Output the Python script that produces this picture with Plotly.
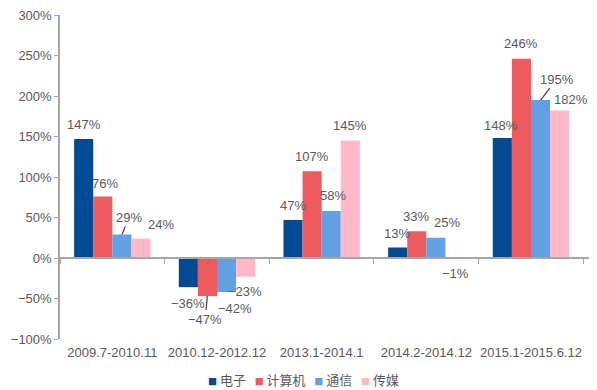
import plotly.graph_objects as go

categories = ["2009.7-2010.11", "2010.12-2012.12", "2013.1-2014.1", "2014.2-2014.12", "2015.1-2015.6.12"]
series_names = ["电子", "计算机", "通信", "传媒"]
dianzi = [147, -36, 47, 13, 148]
jisuanji = [76, -47, 107, 33, 246]
tongxin = [29, -42, 58, 25, 195]
chuanmei = [24, -23, 145, -1, 182]
colors = ["#034A94", "#EE5B5E", "#629FE3", "#FFB8C8"]
y_ticks = [-100, -50, 0, 50, 100, 150, 200, 250, 300]

values = [dianzi, jisuanji, tongxin, chuanmei]

# label offsets (text centre relative to bar end, px); arrow flag for leader lines
label_offsets = [
    [(1, -14, False), (0, 16, False), (0, -14, False), (0, -14, False), (-1, -13, False)],
    [(2, -13, False), (-2, 23, True), (0, -15, False), (-1, -15, False), (0, -15, False)],
    [(7, -17, True), (8, 16, False), (2, -16, False), (11, -15, False), (16, -21, True)],
    [(20, -14, False), (-1, 15, False), (-1, -15, False), (0, 15, False), (11, -11, False)],
]

font_family = "Liberation Sans, Arial, Noto Sans CJK SC, sans-serif"
gray = "#595959"

fig = go.Figure()
for name, vals, col in zip(series_names, values, colors):
    fig.add_trace(go.Bar(x=categories, y=vals, name=name, marker=dict(color=col, line=dict(width=0)),
                         showlegend=False))

# invisible trace carrying the zero-line axis ticks
fig.add_trace(go.Scatter(x=categories, y=[0] * len(categories), xaxis="x2", mode="markers",
                         marker=dict(opacity=0), showlegend=False, hoverinfo="skip"))

W, H = 589, 382
ML, MR, MT, MB = 52, 7, 7, 51
bargap = 0.27
plot_w = W - ML - MR
plot_h = H - MT - MB
cat_w = plot_w / len(categories)
bar_w = cat_w * (1 - bargap) / 4

annotations = []
for si, vals in enumerate(values):
    off = (si - 1.5) * bar_w
    for ci, v in enumerate(vals):
        dx, dy, arrow = label_offsets[si][ci]
        txt = ("−" if v < 0 else "") + f"{abs(v)}%"
        if arrow:
            annotations.append(dict(x=categories[ci], y=v, xref="x", yref="y", xshift=off,
                                    text=txt, showarrow=True, arrowhead=0, arrowwidth=1.2,
                                    arrowcolor="#404040", ax=dx, ay=dy, axref="pixel", ayref="pixel",
                                    font=dict(size=13, color=gray, family=font_family)))
        else:
            annotations.append(dict(x=categories[ci], y=v, xref="x", yref="y",
                                    xshift=off + dx, yshift=-dy, text=txt, showarrow=False,
                                    xanchor="center", yanchor="middle",
                                    font=dict(size=13, color=gray, family=font_family)))

# compact legend
legend_parts = []
for name, col in zip(series_names, colors):
    legend_parts.append(f"<span style='color:{col};font-size:9px'>■</span> {name}")
legend_text = "   ".join(legend_parts)
annotations.append(dict(x=(303 - 60) / plot_w, y=-41 / plot_h, xref="paper", yref="paper",
                        text=legend_text, showarrow=False, xanchor="center", yanchor="middle",
                        font=dict(size=13, color=gray, family="Noto Sans CJK SC, sans-serif")))

fig.update_layout(
    width=W, height=H,
    margin=dict(l=ML, r=MR, t=MT, b=MB, autoexpand=False),
    plot_bgcolor="white", paper_bgcolor="white",
    barmode="group", bargap=bargap, bargroupgap=0,
    showlegend=False,
    font=dict(family=font_family, size=13, color=gray),
    xaxis=dict(showline=False, ticks="", showgrid=False, zeroline=False, automargin=False,
               tickfont=dict(size=13, color=gray), ticklabelstandoff=4),
    xaxis2=dict(matches="x", overlaying="x", anchor="free", position=0.25, showline=True,
                linecolor="#A6A6A6", linewidth=1.5, ticks="outside", tickson="boundaries",
                ticklen=5, tickcolor="#A6A6A6", showticklabels=False, showgrid=False, zeroline=False),
    yaxis=dict(range=[-100, 300], tickvals=y_ticks,
               ticktext=[("−" if t < 0 else "") + f"{abs(t)}%" for t in y_ticks],
               showline=True, linecolor="#A6A6A6", linewidth=1.5, ticks="outside", ticklen=4,
               tickcolor="#A6A6A6", showgrid=False, zeroline=False, automargin=False,
               ticklabeloverflow="allow",
               tickfont=dict(size=13, color=gray)),
    annotations=annotations,
)

fig.write_html("out.html")
